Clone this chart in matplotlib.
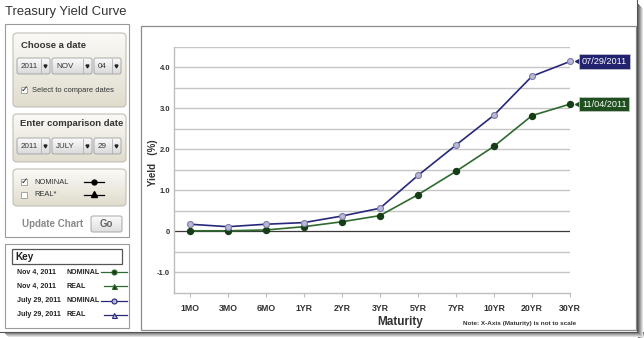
"""Treasury yield curve screenshot, redrawn with matplotlib."""

import numpy as np
import matplotlib.pyplot as plt
from matplotlib.patches import FancyBboxPatch, Rectangle
from matplotlib.transforms import offset_copy

plt.rcParams['font.family'] = ['Liberation Sans', 'DejaVu Sans']

# data
maturities = ["1MO", "3MO", "6MO", "1YR", "2YR", "3YR", "5YR", "7YR", "10YR", "20YR", "30YR"]
nov_2011 = [0.01, 0.01, 0.03, 0.11, 0.23, 0.38, 0.89, 1.46, 2.07, 2.82, 3.10]
jul_2011 = [0.17, 0.11, 0.17, 0.21, 0.37, 0.56, 1.36, 2.10, 2.83, 3.78, 4.14]
end_labels = ["11/04/2011", "07/29/2011"]
y_ticks = [-1.0, 0.0, 1.0, 2.0, 3.0, 4.0]
y_ticklabels = ["-1.0", "0", "1.0", "2.0", "3.0", "4.0"]
key_dates = ["Nov 4, 2011", "Nov 4, 2011", "July 29, 2011", "July 29, 2011"]
key_types = ["NOMINAL", "REAL", "NOMINAL", "REAL"]

W, H = 644, 338
GREEN = "#2f6a2f"
GREEN_DK = "#173d17"
BLUE = "#28287a"
BLUE_LT = "#b9b9d6"
TXT = "#333333"

fig = plt.figure(figsize=(W / 100, H / 100), dpi=100)
fig.patch.set_facecolor("white")

# ui layer in pixel coordinates (y down)
ui = fig.add_axes([0, 0, 1, 1])
ui.axis("off")


def gradient_box(x0, y0, x1, y1, c_top, c_bot, edge, rs=4, lw=0.8):
    patch = FancyBboxPatch((x0, y0), x1 - x0, y1 - y0,
                           boxstyle=f"round,pad=0,rounding_size={rs}",
                           fc="none", ec=edge, lw=lw, zorder=3)
    ui.add_patch(patch)
    c0 = np.array(plt.matplotlib.colors.to_rgb(c_top))
    c1 = np.array(plt.matplotlib.colors.to_rgb(c_bot))
    t = np.linspace(0, 1, 64)[:, None, None]
    img = c0 * (1 - t) + c1 * t
    im = ui.imshow(np.repeat(img, 2, axis=1), extent=(x0, x1, y1, y0),
                   aspect="auto", zorder=2, interpolation="bilinear")
    im.set_clip_path(patch)


def dropdown(x0, x1, y0, y1, label):
    gradient_box(x0, y0, x1, y1, "#fbfbfb", "#d9d9d9", "#a8a8a8", rs=2, lw=0.7)
    ui.text(x0 + 4, (y0 + y1) / 2, label, fontsize=5.8, color=TXT,
            va="center", ha="left", zorder=5)
    ui.plot([x1 - 9, x1 - 9], [y0 + 1, y1 - 1], color="#b0b0b0", lw=0.6, zorder=5)
    ui.plot([x1 - 4.5], [(y0 + y1) / 2], marker="v", ms=2.1, color="#222222", zorder=5)


def checkbox(x, y, checked):
    ui.add_patch(Rectangle((x - 3, y - 3), 6, 6, fc="white", ec="#999999", lw=0.6, zorder=5))
    if checked:
        ui.text(x, y - 0.5, "\u2713", fontsize=6.5, color="#222222", ha="center", va="center",
                zorder=6, family="DejaVu Sans")


# title
ui.text(5, 12, "Treasury Yield Curve", fontsize=9.4, color="#333333", va="center")

# controls box
ui.add_patch(Rectangle((5.5, 23.5), 123.5, 213.5, fc="white", ec="#9a9a9a", lw=0.8, zorder=1))

gradient_box(13, 33, 126, 107, "#fbfaf7", "#e0dccd", "#c2bfb5")
ui.text(21, 45, "Choose a date", fontsize=6.8, weight="bold", color=TXT, va="center", zorder=5)
dropdown(17, 50, 58, 74, "2011")
dropdown(52, 92, 58, 74, "NOV")
dropdown(94, 121, 58, 74, "04")
checkbox(24, 90, True)
ui.text(32, 90, "Select to compare dates", fontsize=5.4, color=TXT, va="center", zorder=5)

gradient_box(13, 114, 126, 162, "#fbfaf7", "#e0dccd", "#c2bfb5")
ui.text(20, 123, "Enter comparison date", fontsize=6.8, weight="bold", color=TXT,
        va="center", zorder=5)
dropdown(17, 50, 138, 154, "2011")
dropdown(52, 92, 138, 154, "JULY")
dropdown(94, 121, 138, 154, "29")

gradient_box(13, 169, 126, 206, "#fbfaf7", "#e0dccd", "#c2bfb5")
checkbox(24, 182, True)
ui.text(34, 182, "NOMINAL", fontsize=5.4, color=TXT, va="center", zorder=5)
ui.plot([84, 104], [182, 182], color="black", lw=0.9, zorder=5)
ui.plot([94], [182], marker="o", ms=3.5, color="black", zorder=6)
checkbox(24, 195, False)
ui.text(34, 195, "REAL*", fontsize=5.4, color=TXT, va="center", zorder=5)
ui.plot([84, 104], [195, 195], color="black", lw=0.9, zorder=5)
ui.plot([94], [194], marker="^", ms=4, color="black", zorder=6)

ui.text(22, 224, "Update Chart", fontsize=7, weight="bold", color="#8a8a8a", va="center", zorder=5)
gradient_box(91, 216, 122, 232, "#fbfbfb", "#dedede", "#a8a8a8", rs=2, lw=0.7)
ui.text(106.5, 224, "Go", fontsize=7, weight="bold", color="#666666",
        va="center", ha="center", zorder=5)

# key box
ui.add_patch(Rectangle((5.5, 243.5), 123.5, 84.5, fc="white", ec="#9a9a9a", lw=0.8, zorder=1))
ui.add_patch(Rectangle((12.5, 248.5), 109.5, 15.5, fc="white", ec="#555555", lw=0.9, zorder=2))
ui.text(15, 256.5, "Key", fontsize=7.2, weight="bold", color="#222222", va="center", zorder=5)
key_y = [272, 286, 301, 315]
for i, (d, kt, ky) in enumerate(zip(key_dates, key_types, key_y)):
    ui.text(17, ky, d, fontsize=5.1, weight="bold", color="#222222", va="center", zorder=5)
    ui.text(67, ky, kt, fontsize=5.1, weight="bold", color="#222222", va="center", zorder=5)
    col = GREEN if i < 2 else BLUE
    fc = GREEN_DK if i < 2 else BLUE_LT
    x_start = 101 if kt == "NOMINAL" else 104
    ui.plot([x_start, 127], [ky, ky], color=col, lw=0.9, zorder=5)
    mk = "o" if kt == "NOMINAL" else "^"
    ui.plot([114], [ky], marker=mk, ms=3.6, mfc=fc, mec=col, mew=0.8, zorder=6)

# chart frame
ui.add_patch(Rectangle((141.5, 26), 494.5, 303.5, fc="white", ec="#8c8c8c", lw=0.9, zorder=1))

# screenshot drop shadow
for k, c in enumerate(["#6d6d6d", "#8a8a8a", "#a7a7a7", "#c4c4c4", "#e0e0e0"]):
    ui.add_patch(Rectangle((638 + k, 4 + k), 1, H, fc=c, ec="none", zorder=1))
    ui.add_patch(Rectangle((4 + k, 332 + k), W, 1, fc=c, ec="none", zorder=1))
ui.plot([637.5, 637.5], [0, 331.5], color="#555555", lw=0.8, zorder=1)
ui.plot([0, 637.5], [331.5, 331.5], color="#555555", lw=0.8, zorder=1)

ui.set_xlim(0, W)
ui.set_ylim(H, 0)

# chart axes
left, right, top, bottom = 174.3, 570.0, 46.7, 292.7
ax = fig.add_axes([left / W, 1 - bottom / H, (right - left) / W, (bottom - top) / H])
ax.patch.set_alpha(0)
x = np.arange(len(maturities))
ax.set_xlim(-0.41, len(maturities) - 1)
ax.set_ylim(-1.5, 4.5)

for g in np.arange(-1.0, 4.51, 0.5):
    if g == 0:
        ax.axhline(0, color="#3a3a3a", lw=0.9, zorder=1)
    else:
        ax.axhline(g, color="#c6c6c6", lw=1.0, zorder=1)

ax.plot(x, nov_2011, color=GREEN, lw=1.2, marker="o", ms=4.3, mfc=GREEN_DK, mec=GREEN_DK,
        zorder=3, clip_on=False)
ax.plot(x, jul_2011, color=BLUE, lw=1.2, marker="o", ms=4.3, mfc=BLUE_LT, mec="#7a7aa8",
        mew=0.8, zorder=4, clip_on=False)

for series, lab, fc in [(nov_2011, end_labels[0], "#1f4f1f"), (jul_2011, end_labels[1], "#22226e")]:
    yv = series[-1]
    ax.annotate(lab, xy=(x[-1], yv), xytext=(12, 0), textcoords="offset pixels",
                fontsize=6.6, color="white", va="center", ha="left", annotation_clip=False,
                bbox=dict(boxstyle="square,pad=0.28", fc=fc, ec="#cccccc", lw=0.5))
    tr = offset_copy(ax.transData, fig=fig, x=8, y=0, units="dots")
    ax.plot([x[-1]], [yv], marker="<", ms=4, color=fc, transform=tr, clip_on=False)

for s in ["top", "right"]:
    ax.spines[s].set_visible(False)
ax.spines["left"].set_color("#bdbdbd")
ax.spines["bottom"].set_color("#bdbdbd")
ax.spines["left"].set_linewidth(1.0)
ax.spines["bottom"].set_linewidth(1.0)

ax.set_xticks(x)
ax.set_xticklabels(maturities, fontsize=6.3, weight="bold", color="#333333")
ax.tick_params(axis="x", length=3, color="#bdbdbd", pad=5)
ax.set_yticks(y_ticks)
ax.set_yticklabels(y_ticklabels, fontsize=5.5, weight="bold", color="#333333")
ax.tick_params(axis="y", length=0, pad=3)

fig.text(152.5 / W, 1 - 163 / H, "Yield   (%)", rotation=90, fontsize=7, weight="bold",
         color="#333333", ha="center", va="center")
fig.text(400 / W, 1 - 321.5 / H, "Maturity", fontsize=8.5, weight="bold",
         color="#333333", ha="center", va="center")
fig.text(520 / W, 1 - 323 / H, "Note: X-Axis (Maturity) is not to scale", fontsize=4.6,
         weight="bold", color="#333333", ha="center", va="center")

fig.savefig("out.png", dpi=100)
